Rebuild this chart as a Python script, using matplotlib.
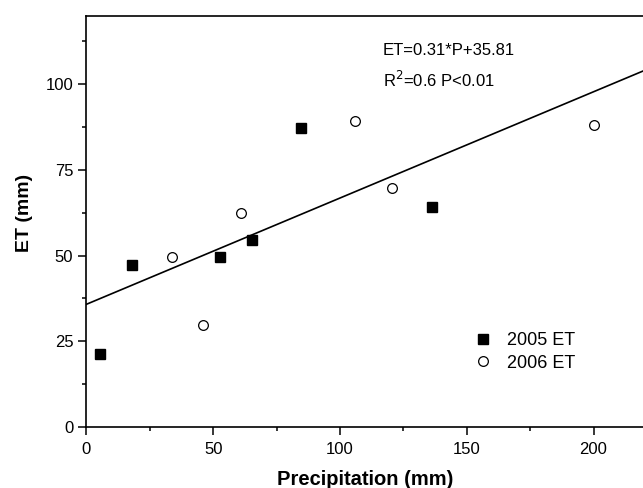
import matplotlib
matplotlib.use("Agg")
import matplotlib.pyplot as plt
import numpy as np

plt.rcParams['font.family'] = ['Liberation Sans', 'DejaVu Sans']

p2005 = [5.3, 18.1, 52.8, 65.3, 84.5, 136.2]
et2005 = [21.2, 47.2, 49.6, 54.7, 87.1, 64.1]
p2006 = [33.6, 45.8, 60.9, 106.0, 120.4, 200.3]
et2006 = [49.6, 29.9, 62.3, 89.4, 69.8, 88.1]
slope, intercept = 0.31, 35.81
xticks = [0, 50, 100, 150, 200]
yticks = [0, 25, 50, 75, 100]

fig = plt.figure(figsize=(6.43, 4.88), dpi=100)
ax = fig.add_axes([86.5/643, 61/488, 1 - 86.5/643, (427 - 15.7)/488])

xl = np.array([0, 220])
ax.plot(xl, slope*xl + intercept, color='black', lw=1.2, zorder=2)
ax.plot(p2005, et2005, ls='none', marker='s', ms=7.5, color='black', label='2005 ET', zorder=3)
ax.plot(p2006, et2006, ls='none', marker='o', ms=7, mfc='white', mec='black', mew=0.9,
        label='2006 ET', zorder=3)

ax.set_xlim(0, 219.5)
ax.set_ylim(0, 120)
ax.set_xticks(xticks)
ax.set_yticks(yticks)
ax.set_xticks([25, 75, 125, 175], minor=True)
ax.set_yticks([12.5, 37.5, 62.5, 87.5, 112.5], minor=True)
ax.tick_params(which='major', direction='out', length=6, width=1.1, labelsize=12)
ax.tick_params(axis='x', which='major', pad=5)
ax.tick_params(which='minor', direction='out', length=3, width=1.1)
for s in ['left', 'bottom', 'top']:
    ax.spines[s].set_linewidth(1.2)
ax.spines['right'].set_visible(False)

ax.set_xlabel('Precipitation (mm)', fontsize=14.5, fontweight='bold', labelpad=9)
ax.set_ylabel('ET (mm)', fontsize=14, fontweight='bold', labelpad=8)
ax.yaxis.set_label_coords(-(86.5-33)/(643-86.5), (427-213)/(427-15.7))

ax.text((383-86.5)/2.535, 120 - (50-15.7)/3.427, 'ET=0.31*P+35.81', fontsize=12,
        va='center', ha='left')
ax.text((383-86.5)/2.535, 120 - (80-15.7)/3.427, 'R$^2$=0.6 P<0.01', fontsize=12,
        va='center', ha='left')

leg = ax.legend(loc='center left', bbox_to_anchor=((465-86.5)/(643-86.5), (427-352)/(427-15.7)),
                frameon=False, fontsize=13, handlelength=1.0, handletextpad=0.8,
                labelspacing=0.3, borderpad=0)

fig.savefig('out.png', dpi=100)
